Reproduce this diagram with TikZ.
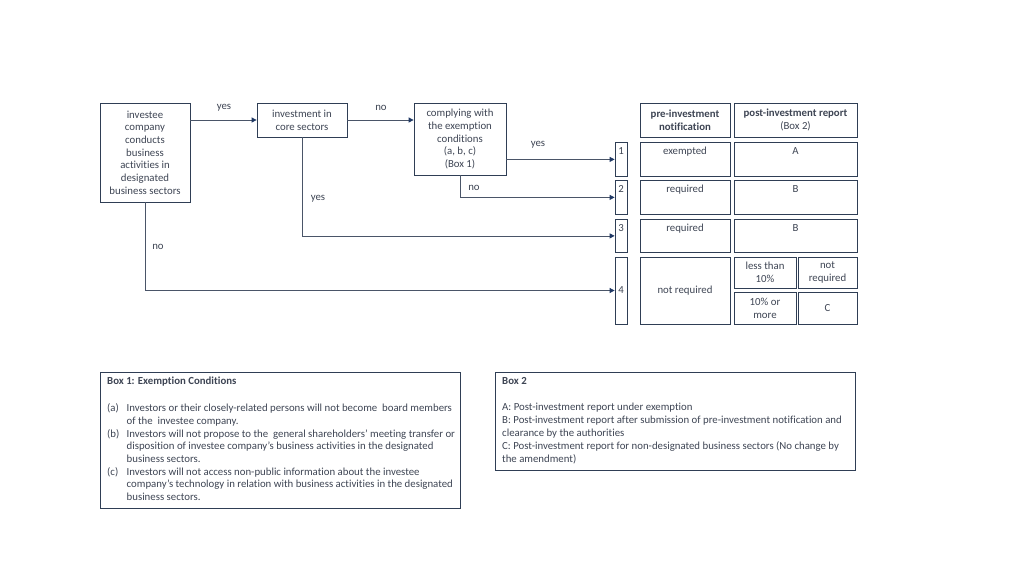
\documentclass[tikz,border=0pt]{standalone}
\usepackage{fontspec}
\setmainfont{Carlito}[Ligatures=NoCommon]
\usetikzlibrary{arrows.meta,calc}
\definecolor{txt}{HTML}{3E4554}
\definecolor{bord}{HTML}{2F3E55}
\definecolor{ln}{HTML}{4A5568}
\definecolor{arr}{HTML}{1F3864}
\begin{document}
\begin{tikzpicture}[x=1pt,y=-1pt,
  every node/.style={font=\fontsize{10.8}{12.7}\selectfont, text=txt},
  box/.style={draw=bord, line width=0.8pt, inner sep=0pt, align=center},
  topcell/.style={box, anchor=north, text height=12pt, text depth=#1},
  conn/.style={draw=ln, line width=0.8pt, -{Triangle[length=5pt,width=5pt,color=arr]}},
  lbl/.style={inner sep=0pt},
  para/.style={inner sep=0pt, align=left, anchor=north west},
]
\useasboundingbox[fill=white] (0,0) rectangle (1024,576);

% flow boxes
\node[box, minimum width=90pt, minimum height=99pt] (A) at (145,152.5)
  {investee\\company\\conducts\\business\\activities in\\designated\\business sectors};
\node[box, minimum width=90pt, minimum height=34pt] (B) at (302,120)
  {investment in\\core sectors};
\node[box, minimum width=92pt, minimum height=72pt] (C) at (460,139)
  {complying with\\the exemption\\conditions\\(a, b, c)\\(Box 1)};

% table header
\node[box, minimum width=90pt, minimum height=34pt, font=\bfseries\fontsize{10.8}{12.7}\selectfont] (p0) at (685,120)
  {pre-investment\\notification};
\node[box, minimum width=123pt, minimum height=34pt] (q0) at (795.5,120)
  {\textbf{post-investment report}\\(Box 2)};

% rows 1-3
\node[topcell=22pt, minimum width=12pt] (n1) at (621,142) {1};
\node[topcell=22pt, minimum width=90pt] (p1) at (685,142) {exempted};
\node[topcell=22pt, minimum width=123pt] (q1) at (795.5,142) {A};
\node[topcell=22pt, minimum width=12pt] (n2) at (621,180) {2};
\node[topcell=22pt, minimum width=90pt] (p2) at (685,180) {required};
\node[topcell=22pt, minimum width=123pt] (q2) at (795.5,180) {B};
\node[topcell=21pt, minimum width=12pt] (n3) at (621,219) {3};
\node[topcell=21pt, minimum width=90pt] (p3) at (685,219) {required};
\node[topcell=21pt, minimum width=123pt] (q3) at (795.5,219) {B};

% row 4
\node[box, minimum width=12pt, minimum height=67pt] (n4) at (621,290.5) {4};
\node[box, minimum width=90pt, minimum height=67pt] (p4) at (685,290.5) {not required};
\node[box, minimum width=62pt, minimum height=31pt] (s1) at (765,272.5) {less than\\10\%};
\node[box, minimum width=59pt, minimum height=31pt] (s2) at (827.5,272.5) {not\\required};
\node[box, minimum width=62pt, minimum height=32pt] (s3) at (765,308) {10\% or\\more};
\node[box, minimum width=59pt, minimum height=32pt] (s4) at (827.5,308) {C};

% connectors
\draw[conn] (A.east |- B.west) -- (B.west);
\draw[conn] (B.east) -- (C.west |- B.east);
\draw[conn] (C.east |- n1.west) -- (n1.west);
\draw[conn] (C.south) |- (n2.west);
\draw[conn] (B.south) |- (n3.west);
\draw[conn] (A.south) |- (n4.west);

% connector labels
\node[lbl] (l1) at (224,108) {yes};
\node[lbl] (l2) at (381,108) {no};
\node[lbl] (l3) at (538,145) {yes};
\node[lbl] (l4) at (474,188) {no};
\node[lbl] (l5) at (318,199) {yes};
\node[lbl] (l6) at (158,247) {no};

% Box 1
\node[draw=bord, line width=0.8pt, minimum width=360pt, minimum height=136pt, inner sep=0pt] (box1) at (280,440) {};
\node[para] (box1t) at (107,377)
  {\textbf{Box 1: Exemption Conditions}\\[14.3pt]
   \makebox[19.5pt][l]{(a)}Investors or their closely-related persons will not become\ \ board members\\
   \hspace*{19.5pt}of the\ \ investee company.\\
   \makebox[19.5pt][l]{(b)}Investors will not propose to the\ \ general shareholders’ meeting transfer or\\
   \hspace*{19.5pt}disposition of investee company’s business activities in the designated\\
   \hspace*{19.5pt}business sectors.\\
   \makebox[19.5pt][l]{(c)}Investors will not access non-public information about the investee\\
   \hspace*{19.5pt}company’s technology in relation with business activities in the designated\\
   \hspace*{19.5pt}business sectors.};

% Box 2
\node[draw=bord, line width=0.8pt, minimum width=360pt, minimum height=98pt, inner sep=0pt] (box2) at (675,421) {};
\node[para, font=\fontsize{10.8}{12.9}\selectfont] (box2t) at (502,377)
  {\textbf{Box 2}\\[13.3pt]
   A: Post-investment report under exemption\\
   B: Post-investment report after submission of pre-investment notification and\\
   clearance by the authorities\\
   C: Post-investment report for non-designated business sectors (No change by\\
   the amendment)};
\end{tikzpicture}
\end{document}
